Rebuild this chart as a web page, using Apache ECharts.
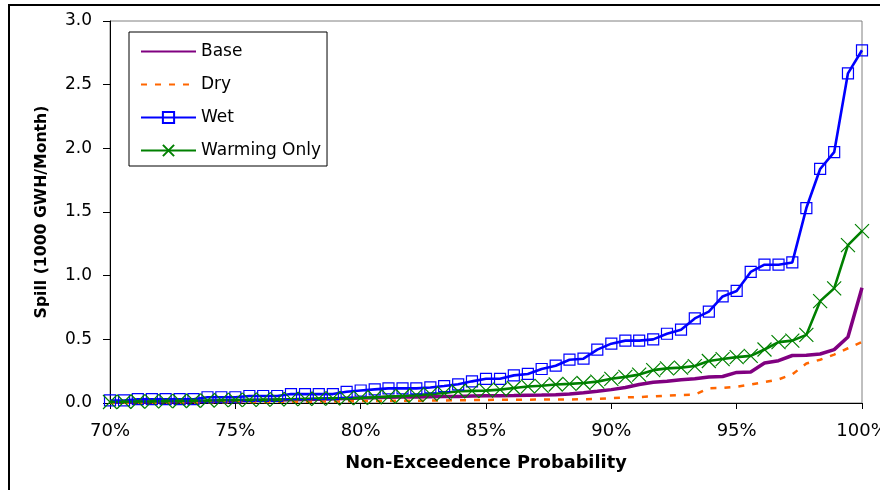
<!DOCTYPE html>
<html>
<head>
<meta charset="utf-8">
<title>Spill exceedence curves</title>
<script src="https://cdn.jsdelivr.net/npm/echarts@6/dist/echarts.min.js"></script>
<style>
  html, body { margin: 0; padding: 0; background: #fff; }
  #chart { width: 880px; height: 490px; }
</style>
</head>
<body>
<div id="chart"></div>
<script>
// Non-exceedence probability (%) of each ranked monthly value
const probability = [
  70.00, 70.56, 71.11, 71.67, 72.22, 72.78, 73.33, 73.89, 74.44, 75.00,
  75.56, 76.11, 76.67, 77.22, 77.78, 78.33, 78.89, 79.44, 80.00,
  80.56, 81.11, 81.67, 82.22, 82.78, 83.33, 83.89, 84.44, 85.00,
  85.56, 86.11, 86.67, 87.22, 87.78, 88.33, 88.89, 89.44, 90.00,
  90.56, 91.11, 91.67, 92.22, 92.78, 93.33, 93.89, 94.44, 95.00,
  95.56, 96.11, 96.67, 97.22, 97.78, 98.33, 98.89, 99.44, 100.00
];

// Spill, 1000 GWH/Month
const base = [
  0.005, 0.005, 0.008, 0.008, 0.010, 0.010, 0.012, 0.013, 0.015, 0.017,
  0.020, 0.022, 0.024, 0.026, 0.028, 0.030, 0.033, 0.036, 0.040,
  0.042, 0.045, 0.047, 0.048, 0.050, 0.051, 0.052, 0.055, 0.057,
  0.057, 0.058, 0.060, 0.062, 0.065, 0.070, 0.080, 0.092, 0.105,
  0.122, 0.145, 0.163, 0.170, 0.183, 0.190, 0.204, 0.208, 0.240,
  0.243, 0.314, 0.332, 0.373, 0.375, 0.385, 0.419, 0.518, 0.905
];
const dry = [
  0.000, 0.000, 0.002, 0.002, 0.003, 0.003, 0.004, 0.005, 0.005, 0.006,
  0.008, 0.008, 0.009, 0.010, 0.010, 0.011, 0.012, 0.013, 0.015,
  0.016, 0.017, 0.018, 0.018, 0.019, 0.020, 0.022, 0.023, 0.024,
  0.025, 0.026, 0.026, 0.027, 0.027, 0.028, 0.030, 0.031, 0.039,
  0.044, 0.047, 0.052, 0.058, 0.063, 0.065, 0.116, 0.118, 0.128,
  0.145, 0.165, 0.185, 0.225, 0.310, 0.340, 0.380, 0.430, 0.480
];
const wet = [
  0.020, 0.020, 0.030, 0.030, 0.030, 0.030, 0.030, 0.045, 0.045, 0.045,
  0.055, 0.055, 0.055, 0.070, 0.070, 0.070, 0.070, 0.088, 0.098,
  0.107, 0.115, 0.115, 0.115, 0.122, 0.133, 0.147, 0.170, 0.190,
  0.190, 0.217, 0.228, 0.267, 0.293, 0.340, 0.348, 0.419, 0.466,
  0.490, 0.490, 0.500, 0.544, 0.576, 0.664, 0.717, 0.837, 0.880,
  1.029, 1.086, 1.086, 1.104, 1.531, 1.838, 1.970, 2.589, 2.770
];
const warmingOnly = [
  0.008, 0.010, 0.012, 0.013, 0.015, 0.016, 0.018, 0.020, 0.022, 0.024,
  0.025, 0.026, 0.028, 0.030, 0.032, 0.034, 0.036, 0.038, 0.040,
  0.045, 0.050, 0.055, 0.062, 0.070, 0.078, 0.092, 0.095, 0.097,
  0.105, 0.118, 0.130, 0.135, 0.145, 0.150, 0.157, 0.168, 0.190,
  0.205, 0.223, 0.258, 0.272, 0.278, 0.290, 0.330, 0.345, 0.360,
  0.370, 0.420, 0.478, 0.490, 0.535, 0.800, 0.900, 1.240, 1.350
];

const seriesNames = ['Base', 'Dry', 'Wet', 'Warming Only'];
const xTitle = 'Non-Exceedence Probability';
const yTitle = 'Spill (1000 GWH/Month)';

const pairs = ys => probability.map((p, i) => [p, ys[i]]);
const FONT = 'DejaVu Sans';
const crossPath = 'path://M0,0L10,10M0,10L10,0';
const CLEAR = 'rgba(255,255,255,0)';

const chart = echarts.init(document.getElementById('chart'), null, { renderer: 'canvas' });

chart.setOption({
  backgroundColor: '#ffffff',
  animation: false,
  graphic: [{
    type: 'rect',
    silent: true,
    shape: { x: 9, y: 5, width: 900, height: 520 },
    style: { fill: 'none', stroke: '#000000', lineWidth: 2 }
  }],
  grid: {
    left: 110, top: 21, right: 18, bottom: 87,
    outerBoundsMode: 'none',
    containLabel: false,
    show: true, borderColor: '#808080', borderWidth: 1, backgroundColor: '#ffffff'
  },
  legend: {
    orient: 'vertical',
    left: 129, top: 32,
    backgroundColor: '#ffffff',
    borderColor: '#000000', borderWidth: 1,
    padding: [11, 6, 7, 11],
    itemWidth: 55, itemHeight: 14, itemGap: 16,
    textStyle: { fontFamily: FONT, fontSize: 17, color: '#000000' },
    data: seriesNames
  },
  xAxis: {
    type: 'value',
    min: 70, max: 100, interval: 5,
    name: xTitle,
    nameLocation: 'middle',
    nameGap: 51,
    nameTextStyle: { fontFamily: FONT, fontSize: 17.8, fontWeight: 'bold', color: '#000000' },
    axisLine: { show: true, onZero: false, lineStyle: { color: '#000000', width: 1 } },
    axisTick: { show: true, inside: false, length: 6, lineStyle: { color: '#000000' } },
    axisLabel: { margin: 19, fontFamily: FONT, fontSize: 18, color: '#000000', formatter: '{value}%' },
    splitLine: { show: false }
  },
  yAxis: {
    type: 'value',
    min: 0, max: 3, interval: 0.5,
    name: yTitle,
    nameLocation: 'middle',
    nameGap: 60,
    nameTextStyle: { fontFamily: FONT, fontSize: 15.7, fontWeight: 'bold', color: '#000000' },
    axisLine: { show: true, lineStyle: { color: '#000000', width: 1 } },
    axisTick: { show: true, inside: false, length: 7, lineStyle: { color: '#000000' } },
    axisLabel: { margin: 18, fontFamily: FONT, fontSize: 17, color: '#000000', formatter: v => v.toFixed(1) },
    splitLine: { show: false }
  },
  series: [
    {
      name: 'Base', type: 'line', data: pairs(base),
      symbol: 'none', color: '#800080',
      lineStyle: { color: '#800080', width: 3.5 },
      itemStyle: { color: CLEAR, borderWidth: 0 }
    },
    {
      name: 'Dry', type: 'line', data: pairs(dry),
      symbol: 'none', color: '#FF6600',
      lineStyle: { color: '#FF6600', width: 2.5, type: [6, 8] },
      itemStyle: { color: CLEAR, borderWidth: 0 }
    },
    {
      name: 'Wet', type: 'line', data: pairs(wet),
      symbol: 'rect', symbolSize: 11, showAllSymbol: true,
      color: '#0000FF',
      lineStyle: { color: '#0000FF', width: 2.6 },
      itemStyle: { color: CLEAR, borderColor: '#0000FF', borderWidth: 1.2 }
    },
    {
      name: 'Warming Only', type: 'line', data: pairs(warmingOnly),
      symbol: crossPath, symbolSize: 14, showAllSymbol: true,
      color: '#008000',
      lineStyle: { color: '#008000', width: 2.6 },
      itemStyle: { color: CLEAR, borderColor: '#008000', borderWidth: 1.2 }
    }
  ]
});
</script>
</body>
</html>
